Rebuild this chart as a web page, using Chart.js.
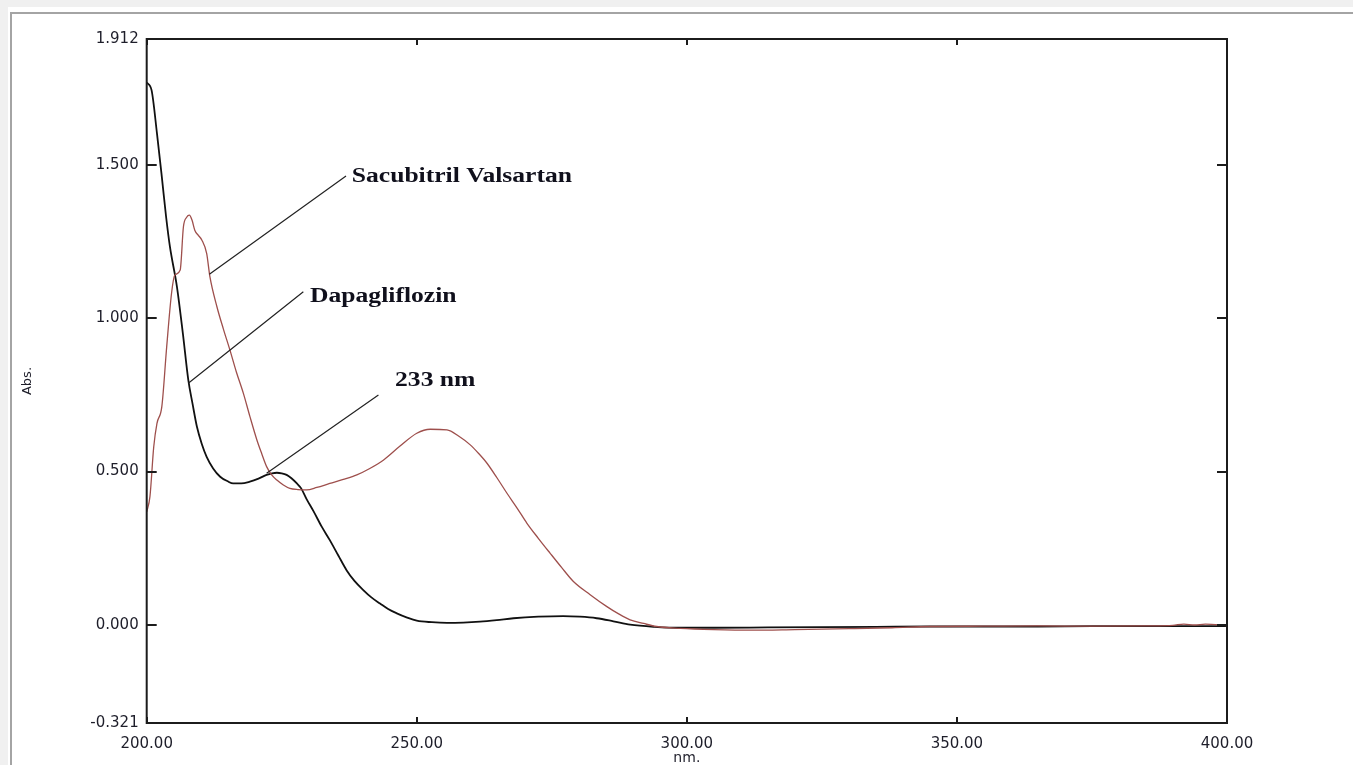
<!DOCTYPE html>
<html>
<head>
<meta charset="utf-8">
<title>Abs. vs nm.</title>
<script src="https://cdn.jsdelivr.net/npm/chart.js@4.4.1/dist/chart.umd.min.js"></script>
<style>
    html, body { margin: 0; padding: 0; width: 1353px; height: 765px; overflow: hidden; background: #f0f0f0; }
    .panel { position: absolute; left: 8px; top: 7px; right: 0; bottom: 0; background: #fff; }
    .edge { position: absolute; left: 10px; top: 12px; right: -4px; bottom: -4px; border-left: 2px solid #a4a4a4; border-top: 2px solid #a4a4a4; }
    #spectrum { position: absolute; left: 0; top: 0; }
</style>
</head>
<body>
<div class="panel"></div>
<div class="edge"></div>
<canvas id="spectrum" width="1353" height="765"></canvas>
<script>
// axis ticks
const nmTicks = [200, 250, 300, 350, 400];
const absTicks = [-0.321, 0, 0.5, 1, 1.5, 1.912];

// Dapagliflozin (black)
const dapaNm = [200, 200.9, 201.9, 202.8, 203.6, 204.3, 205.6, 206.7, 207.7, 208.5, 209.3, 210.2, 211.1, 212.3, 213.6,
    215.0, 216.0, 217.5, 219.1, 220.7, 222.2, 223.2, 224.1, 225.0, 225.9, 226.8, 227.8, 228.6, 229.6, 230.9, 232.4,
    233.9, 235.5, 237.0, 238.5, 240.1, 241.6, 243.2, 244.7, 246.3, 248.1, 250, 252.8, 255.6, 258.6, 261.7, 264.8,
    267.9, 272.5, 277.1, 280.2, 283.3, 286.4, 289.5, 294, 298.8, 305, 315, 325, 335, 345, 355, 365, 375, 385, 395, 400];
const dapaAbs = [1.770, 1.745, 1.604, 1.462, 1.330, 1.234, 1.103, 0.950, 0.799, 0.720, 0.646, 0.590, 0.548, 0.510, 0.483,
    0.468, 0.461, 0.461, 0.467, 0.477, 0.489, 0.494, 0.496, 0.494, 0.489, 0.478, 0.461, 0.445, 0.410, 0.370, 0.320,
    0.276, 0.225, 0.178, 0.142, 0.113, 0.089, 0.069, 0.051, 0.037, 0.024, 0.013, 0.008, 0.006, 0.007, 0.010, 0.015,
    0.021, 0.026, 0.028, 0.026, 0.021, 0.011, 0.000, -0.007, -0.010, -0.010, -0.009, -0.008, -0.007, -0.006, -0.006,
    -0.006, -0.005, -0.005, -0.005, -0.005];

// Sacubitril Valsartan (brown)
const sacNm = [200, 200.6, 201.3, 201.9, 202.8, 203.7, 204.6, 205.2, 206.2, 206.8, 207.4, 207.9, 208.4, 208.9, 209.6,
    210.2, 211.1, 211.7, 213.0, 214.2, 215.4, 216.6, 217.9, 219.1, 220.4, 221.3, 222.2, 223.1, 224.1, 225.3, 226.5,
    228.0, 229.6, 231.5, 233.9, 236.4, 238.9, 241.3, 243.8, 246.9, 250, 252.5, 255.6, 257.8, 259.9, 261.5, 263.0,
    264.9, 266.7, 268.6, 270.4, 272.5, 274.7, 276.8, 279.0, 282.1, 285.2, 287.3, 289.5, 292, 294.4, 298.8, 305, 312,
    320, 330, 338, 345, 355, 365, 375, 385, 390, 392, 394, 396, 400];
const sacAbs = [0.368, 0.418, 0.580, 0.657, 0.712, 0.907, 1.082, 1.141, 1.158, 1.299, 1.330, 1.337, 1.320, 1.288, 1.270,
    1.256, 1.212, 1.136, 1.038, 0.965, 0.897, 0.825, 0.755, 0.680, 0.603, 0.558, 0.516, 0.490, 0.472, 0.456, 0.445,
    0.441, 0.440, 0.448, 0.461, 0.474, 0.489, 0.510, 0.537, 0.583, 0.625, 0.638, 0.636, 0.615, 0.587, 0.558, 0.527,
    0.478, 0.429, 0.380, 0.331, 0.282, 0.233, 0.187, 0.141, 0.098, 0.059, 0.036, 0.016, 0.004, -0.006, -0.012, -0.016,
    -0.018, -0.016, -0.013, -0.010, -0.006, -0.005, -0.004, -0.005, -0.004, -0.002, 0.002, -0.001, 0.002, -0.003];

// notes on the plot, in data units (nm, Abs.)
const noteText = ['Sacubitril Valsartan', 'Dapagliflozin', '233 nm'];
const noteAt = [[237.96, 1.445], [230.24, 1.054], [245.98, 0.779]];
const leaderFrom = [[211.6, 1.144], [207.7, 0.788], [222.2, 0.494]];
const leaderTo = [[236.9, 1.465], [229.0, 1.087], [242.9, 0.750]];

const toPoints = (xs, ys) => xs.map((v, i) => ({ x: v, y: ys[i] }));

// box, inward ticks and the leader notes
const frame = {
    id: 'frame',
    afterDatasetsDraw(chart) {
        const { ctx, chartArea: a, scales: { x, y } } = chart;
        ctx.save();
        ctx.strokeStyle = '#1c1c1c';
        ctx.lineWidth = 2;
        ctx.strokeRect(a.left, a.top, a.right - a.left, a.bottom - a.top);
        ctx.beginPath();
        y.ticks.forEach(t => {
            const py = Math.round(y.getPixelForValue(t.value));
            ctx.moveTo(a.left, py); ctx.lineTo(a.left + 10, py);
            ctx.moveTo(a.right, py); ctx.lineTo(a.right - 10, py);
        });
        x.ticks.forEach(t => {
            const px = Math.round(x.getPixelForValue(t.value));
            ctx.moveTo(px, a.top); ctx.lineTo(px, a.top + 6);
            ctx.moveTo(px, a.bottom); ctx.lineTo(px, a.bottom - 6);
        });
        ctx.stroke();

        ctx.lineWidth = 1.2;
        ctx.strokeStyle = '#222';
        ctx.beginPath();
        leaderFrom.forEach((p, i) => {
            ctx.moveTo(x.getPixelForValue(p[0]), y.getPixelForValue(p[1]));
            ctx.lineTo(x.getPixelForValue(leaderTo[i][0]), y.getPixelForValue(leaderTo[i][1]));
        });
        ctx.stroke();

        ctx.fillStyle = '#10101c';
        ctx.font = 'bold 20px "Liberation Serif", "Times New Roman", serif';
        ctx.textBaseline = 'alphabetic';
        ctx.textAlign = 'left';
        noteText.forEach((txt, i) => {
            ctx.save();
            ctx.translate(x.getPixelForValue(noteAt[i][0]), y.getPixelForValue(noteAt[i][1]));
            ctx.scale(1.28, 1);
            ctx.fillText(txt, 0, 0);
            ctx.restore();
        });
        ctx.restore();
    }
};

Chart.defaults.font.family = '"DejaVu Sans", sans-serif';
Chart.defaults.color = '#1e1e2a';

new Chart(document.getElementById('spectrum'), {
    type: 'line',
    data: {
        datasets: [
            {
                label: 'Sacubitril Valsartan',
                data: toPoints(sacNm, sacAbs),
                borderColor: '#9e4f4c',
                borderWidth: 1.3,
                pointRadius: 0,
                cubicInterpolationMode: 'monotone'
            },
            {
                label: 'Dapagliflozin',
                data: toPoints(dapaNm, dapaAbs),
                borderColor: '#111',
                borderWidth: 1.8,
                pointRadius: 0,
                cubicInterpolationMode: 'monotone'
            }
        ]
    },
    options: {
        responsive: false,
        animation: false,
        events: [],
        layout: { padding: { left: 0, top: 39, right: 126, bottom: 0 } },
        plugins: { legend: { display: false }, tooltip: { enabled: false } },
        scales: {
            x: {
                type: 'linear',
                min: 200,
                max: 400,
                grid: { display: false, drawTicks: false },
                border: { display: false },
                afterBuildTicks: s => { s.ticks = nmTicks.map(v => ({ value: v })); },
                afterFit: s => { s.height = 42; },
                ticks: {
                    padding: 12,
                    maxRotation: 0,
                    font: { size: 15 },
                    callback: v => v.toFixed(2)
                },
                title: { display: true, text: 'nm.', font: { size: 14 }, padding: { top: 0, bottom: -2 } }
            },
            y: {
                min: -0.321,
                max: 1.912,
                grid: { display: false, drawTicks: false },
                border: { display: false },
                afterBuildTicks: s => { s.ticks = absTicks.map(v => ({ value: v })); },
                afterFit: s => { s.width = 146.7; },
                ticks: {
                    padding: 8,
                    font: { size: 15 },
                    callback: v => v.toFixed(3)
                },
                title: { display: true, text: 'Abs.', font: { size: 13 }, padding: { top: 20, bottom: 0 } }
            }
        }
    },
    plugins: [frame]
});
</script>
</body>
</html>
